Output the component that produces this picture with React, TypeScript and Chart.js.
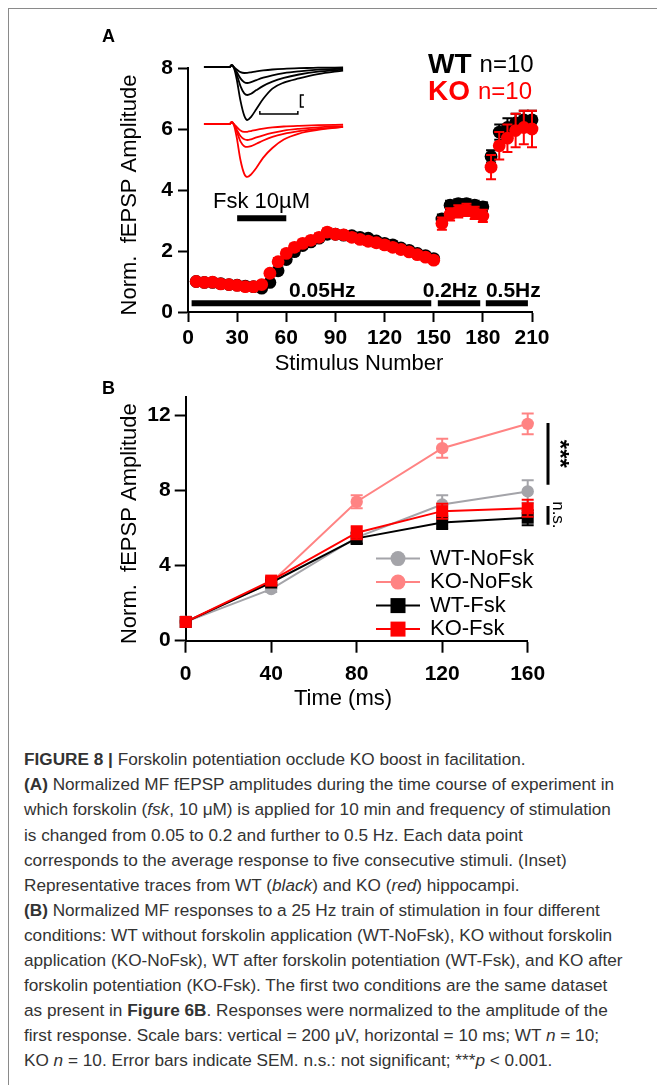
import React, { useEffect, useRef } from "react";
import { Chart, registerables } from "chart.js";

Chart.register(...registerables);

const FONT = "'Liberation Sans', Arial, Helvetica, sans-serif";

// ---------------- Panel A: time course ----------------
const stimulusNumber = [5, 10, 15, 20, 25, 30, 35, 40, 45, 50, 55, 60, 65, 70, 75, 80, 85, 90, 95, 100, 105, 110, 115, 120, 125, 130, 135, 140, 145, 150, 155, 160, 165, 170, 175, 180, 185, 190, 195, 200, 205, 210];
const wtAmplitude = [1.0, 0.97, 0.97, 0.93, 0.9, 0.88, 0.85, 0.83, 0.78, 0.97, 1.35, 1.72, 1.98, 2.18, 2.3, 2.42, 2.55, 2.55, 2.52, 2.5, 2.45, 2.42, 2.33, 2.25, 2.2, 2.1, 2.02, 1.92, 1.85, 1.75, 3.05, 3.5, 3.55, 3.55, 3.5, 3.45, 5.1, 5.9, 6.05, 6.2, 6.3, 6.3];
const wtSem = [0.02, 0.04, 0.05, 0.05, 0.05, 0.05, 0.05, 0.05, 0.05, 0.06, 0.08, 0.09, 0.1, 0.1, 0.1, 0.1, 0.1, 0.1, 0.1, 0.1, 0.1, 0.1, 0.1, 0.1, 0.1, 0.1, 0.1, 0.09, 0.09, 0.09, 0.15, 0.15, 0.15, 0.15, 0.15, 0.15, 0.2, 0.25, 0.3, 0.3, 0.3, 0.3];
const koAmplitude = [1.0, 0.97, 0.98, 0.92, 0.9, 0.87, 0.83, 0.83, 0.9, 1.27, 1.65, 1.92, 2.12, 2.25, 2.35, 2.45, 2.62, 2.55, 2.53, 2.45, 2.38, 2.32, 2.27, 2.2, 2.12, 2.05, 1.97, 1.88, 1.8, 1.7, 2.9, 3.2, 3.3, 3.35, 3.25, 3.15, 4.75, 5.45, 5.7, 5.95, 6.05, 6.0];
const koSem = [0.02, 0.05, 0.05, 0.06, 0.06, 0.06, 0.06, 0.06, 0.07, 0.1, 0.12, 0.12, 0.12, 0.12, 0.12, 0.12, 0.12, 0.12, 0.12, 0.12, 0.12, 0.12, 0.12, 0.12, 0.12, 0.12, 0.1, 0.1, 0.1, 0.1, 0.2, 0.2, 0.2, 0.2, 0.2, 0.2, 0.4, 0.45, 0.45, 0.55, 0.55, 0.6];
const xTicksA = [0, 30, 60, 90, 120, 150, 180, 210];
const yTicksA = [0, 2, 4, 6, 8];

// stimulation frequency bars
const freqLabels = ["0.05Hz", "0.2Hz", "0.5Hz"];
const freqStart = [2.2, 152.5, 181.8];
const freqEnd = [148.5, 178.4, 207.5];
const freqLabelAt = [82, 160, 198.6];
const freqBarLevel = 0.29;
const freqLabelLevel = 0.69;

// forskolin application bar
const fskLabel = "Fsk 10µM";
const fskStart = 30;
const fskEnd = 60;
const fskLevel = 3.07;

// inset: representative traces (time in ms, amplitude in µV)
const traceTimeMs = [0, 6.8, 7.3, 7.8, 8.6, 9.6, 10.6, 11.4, 12.4, 13.8, 15.6, 18, 21, 25, 30, 36.6];
const wtTraces = [
  [0, 0, 30, 0, -40, -85, -100, -98, -88, -72, -57, -42, -30, -20, -12, -8],
  [0, 0, 30, 0, -80, -190, -255, -267, -252, -218, -178, -138, -102, -72, -45, -28],
  [0, 0, 30, 0, -120, -320, -440, -467, -445, -385, -315, -245, -182, -125, -78, -45],
  [0, 0, 30, 0, -200, -560, -810, -883, -830, -700, -530, -360, -260, -190, -120, -60],
];
const koTraces = [
  [0, 0, 30, 0, -50, -110, -133, -130, -118, -98, -78, -58, -42, -30, -20, -12],
  [0, 0, 30, 0, -90, -200, -255, -267, -255, -225, -190, -150, -110, -80, -55, -35],
  [0, 0, 30, 0, -120, -290, -370, -383, -370, -330, -275, -215, -165, -120, -80, -50],
  [0, 0, 30, 0, -220, -600, -830, -883, -840, -730, -560, -400, -260, -160, -100, -50],
];
const scaleBarMs = 10;
const scaleBarUv = 200;

// ---------------- Panel B: 25 Hz train ----------------
const timeMs = [0, 40, 80, 120, 160];
const wtNoFsk = [1, 2.75, 5.5, 7.25, 7.95];
const wtNoFskSem = [0, 0.15, 0.3, 0.5, 0.6];
const koNoFsk = [1, 3.1, 7.4, 10.25, 11.55];
const koNoFskSem = [0, 0.15, 0.35, 0.5, 0.55];
const wtFsk = [1, 3.1, 5.45, 6.3, 6.55];
const wtFskSem = [0, 0.15, 0.3, 0.35, 0.4];
const koFsk = [1, 3.2, 5.75, 6.9, 7.05];
const koFskSem = [0, 0.15, 0.35, 0.4, 0.45];
const xTicksB = [0, 40, 80, 120, 160];
const yTicksB = [0, 4, 8, 12];
const seriesNamesB = ["WT-NoFsk", "KO-NoFsk", "WT-Fsk", "KO-Fsk"];

const GRAY = "#a4a4a9";
const SALMON = "#ff8383";
const RED = "#ff0000";
const BLACK = "#000000";

const pts = (xs: number[], ys: number[]) => xs.map((x, i) => ({ x, y: ys[i] }));

const errorBarPlugin = {
  id: "errorBars",
  beforeDatasetDraw(chart: any, args: any) {
    const ds = chart.data.datasets[args.index];
    const sem: number[] | undefined = ds.sem;
    if (!sem) return;
    const meta = args.meta;
    const xs = chart.scales[meta.xAxisID];
    const ys = chart.scales[meta.yAxisID];
    const ctx = chart.ctx;
    ctx.save();
    ctx.strokeStyle = ds.borderColor;
    ctx.lineWidth = 2;
    const cap = ds.capHalf || 5;
    ds.data.forEach((p: any, i: number) => {
      const e = sem[i];
      if (!e) return;
      const x = xs.getPixelForValue(p.x);
      const y1 = ys.getPixelForValue(p.y + e);
      const y2 = ys.getPixelForValue(p.y - e);
      ctx.beginPath();
      ctx.moveTo(x, y1);
      ctx.lineTo(x, y2);
      ctx.moveTo(x - cap, y1);
      ctx.lineTo(x + cap, y1);
      ctx.moveTo(x - cap, y2);
      ctx.lineTo(x + cap, y2);
      ctx.stroke();
    });
    ctx.restore();
  },
};

const axisStyle = (ticks: number[], min: number, max: number, tickLen: number, pad: number) => ({
  type: "linear" as const,
  min,
  max,
  afterBuildTicks: (s: any) => {
    s.ticks = ticks.map((v) => ({ value: v }));
  },
  ticks: {
    color: "#000",
    font: { family: FONT, size: 21, weight: "bold" as const },
    padding: pad,
    autoSkip: false,
    maxRotation: 0,
  },
  grid: {
    display: true,
    drawOnChartArea: false,
    drawTicks: true,
    tickLength: tickLen,
    tickWidth: 2,
    color: "#000",
  },
  border: { display: true, color: "#000", width: 2 },
});

const annotationsA = {
  id: "annotA",
  afterDatasetsDraw(chart: any) {
    const { ctx, chartArea: ca, scales } = chart;
    const sx = scales.x;
    const sy = scales.y;
    ctx.save();
    ctx.fillStyle = "#000";
    ctx.textBaseline = "middle";
    ctx.textAlign = "center";
    ctx.font = `22px ${FONT}`;
    ctx.fillText("Stimulus Number", ca.left + 171, ca.bottom + 52);
    ctx.save();
    ctx.translate(ca.left - 57.6, ca.top + 127);
    ctx.rotate(-Math.PI / 2);
    ctx.fillText("Norm.  fEPSP Amplitude", 0, 0);
    ctx.restore();

    // frequency labels
    ctx.font = `bold 21px ${FONT}`;
    freqLabels.forEach((t, i) => {
      ctx.fillText(t, sx.getPixelForValue(freqLabelAt[i]), sy.getPixelForValue(freqLabelLevel));
    });

    // forskolin label
    ctx.textAlign = "left";
    ctx.font = `22px ${FONT}`;
    ctx.fillText(fskLabel, ca.left + 25, ca.top + 134.4);

    // legend WT / KO
    const lx = ca.left + 240;
    ctx.font = `bold 28px ${FONT}`;
    ctx.fillStyle = BLACK;
    ctx.fillText("WT", lx, ca.top - 2.7);
    let w = ctx.measureText("WT").width;
    ctx.font = `24px ${FONT}`;
    ctx.fillText("n=10", lx + w + 8, ca.top - 2.7);
    ctx.font = `bold 28px ${FONT}`;
    ctx.fillStyle = RED;
    ctx.fillText("KO", lx, ca.top + 24);
    w = ctx.measureText("KO").width;
    ctx.font = `24px ${FONT}`;
    ctx.fillText("n=10", lx + w + 8, ca.top + 24);
    ctx.restore();
  },
};

const annotationsB = {
  id: "annotB",
  afterDatasetsDraw(chart: any) {
    const { ctx, chartArea: ca, scales } = chart;
    const sx = scales.x;
    const sy = scales.y;
    ctx.save();
    ctx.fillStyle = "#000";
    ctx.textBaseline = "middle";
    ctx.textAlign = "center";
    ctx.font = `22px ${FONT}`;
    ctx.fillText("Time (ms)", ca.left + 157.3, ca.bottom + 58.5);
    ctx.save();
    ctx.translate(ca.left - 55.3, ca.top + 127);
    ctx.rotate(-Math.PI / 2);
    ctx.fillText("Norm.  fEPSP Amplitude", 0, 0);
    ctx.restore();

    // significance marks
    const sigX = sx.getPixelForValue(169.5);
    ctx.strokeStyle = "#000";
    ctx.lineWidth = 3;
    ctx.beginPath();
    ctx.moveTo(sigX, sy.getPixelForValue(11.6));
    ctx.lineTo(sigX, sy.getPixelForValue(8.3));
    ctx.moveTo(sigX, sy.getPixelForValue(7.18));
    ctx.lineTo(sigX, sy.getPixelForValue(6.17));
    ctx.stroke();
    ctx.save();
    ctx.translate(sigX + 11, sy.getPixelForValue(9.95));
    ctx.rotate(Math.PI / 2);
    ctx.font = `bold 24px ${FONT}`;
    ctx.fillText("***", 0, 0);
    ctx.restore();
    ctx.save();
    ctx.translate(sigX + 9.5, sy.getPixelForValue(6.7));
    ctx.rotate(Math.PI / 2);
    ctx.font = `17px ${FONT}`;
    ctx.fillText("n.s.", 0, 0);
    ctx.restore();

    // legend
    const lx0 = ca.left + 190.3;
    const lx1 = ca.left + 234.3;
    const tx = ca.left + 244.3;
    const y0 = ca.top + 162;
    const gap = 23.5;
    seriesNamesB.forEach((name, i) => {
      const ds = chart.data.datasets[i];
      const y = y0 + i * gap;
      ctx.strokeStyle = ds.borderColor;
      ctx.lineWidth = 2;
      ctx.beginPath();
      ctx.moveTo(lx0, y);
      ctx.lineTo(lx1, y);
      ctx.stroke();
      ctx.fillStyle = ds.backgroundColor;
      const cx = (lx0 + lx1) / 2;
      if (ds.pointStyle === "circle") {
        ctx.beginPath();
        ctx.arc(cx, y, 7.5, 0, Math.PI * 2);
        ctx.fill();
      } else {
        ctx.fillRect(cx - 7.5, y - 7.5, 15, 15);
      }
      ctx.fillStyle = "#000";
      ctx.textAlign = "left";
      ctx.font = `22px ${FONT}`;
      ctx.fillText(name, tx, y);
    });
    ctx.restore();
  },
};

function buildChartA(canvas: HTMLCanvasElement) {
  const traceSets: any[] = [];
  wtTraces.forEach((tr) => {
    traceSets.push({
      data: pts(traceTimeMs, tr),
      xAxisID: "xi",
      yAxisID: "yw",
      showLine: true,
      borderColor: BLACK,
      borderWidth: 1.8,
      pointRadius: 0,
      cubicInterpolationMode: "monotone",
      clip: false,
      order: 10,
    });
  });
  koTraces.forEach((tr) => {
    traceSets.push({
      data: pts(traceTimeMs, tr),
      xAxisID: "xi",
      yAxisID: "yk",
      showLine: true,
      borderColor: RED,
      borderWidth: 1.8,
      pointRadius: 0,
      cubicInterpolationMode: "monotone",
      clip: false,
      order: 10,
    });
  });
  // scale bars of the inset
  const hbT0 = 14.7;
  const hbV = -783;
  traceSets.push({
    data: [
      { x: hbT0, y: hbV + 50 },
      { x: hbT0, y: hbV },
      { x: hbT0 + scaleBarMs, y: hbV },
      { x: hbT0 + scaleBarMs, y: hbV + 50 },
    ],
    xAxisID: "xi",
    yAxisID: "yw",
    showLine: true,
    borderColor: BLACK,
    borderWidth: 1.5,
    pointRadius: 0,
    clip: false,
    order: 10,
  });
  const vbT = 25.4;
  const vbTop = -467;
  traceSets.push({
    data: [
      { x: vbT + 0.9, y: vbTop },
      { x: vbT, y: vbTop },
      { x: vbT, y: vbTop - scaleBarUv },
      { x: vbT + 0.9, y: vbTop - scaleBarUv },
    ],
    xAxisID: "xi",
    yAxisID: "yw",
    showLine: true,
    borderColor: BLACK,
    borderWidth: 1.5,
    pointRadius: 0,
    clip: false,
    order: 10,
  });

  const barSets: any[] = freqLabels.map((_, i) => ({
    data: [
      { x: freqStart[i], y: freqBarLevel },
      { x: freqEnd[i], y: freqBarLevel },
    ],
    showLine: true,
    borderColor: BLACK,
    borderWidth: 6,
    borderCapStyle: "butt",
    pointRadius: 0,
    clip: false,
    order: 9,
  }));
  barSets.push({
    data: [
      { x: fskStart, y: fskLevel },
      { x: fskEnd, y: fskLevel },
    ],
    showLine: true,
    borderColor: BLACK,
    borderWidth: 6,
    borderCapStyle: "butt",
    pointRadius: 0,
    clip: false,
    order: 9,
  });

  return new Chart(canvas, {
    type: "scatter",
    data: {
      datasets: [
        {
          label: "WT",
          data: pts(stimulusNumber, wtAmplitude),
          sem: wtSem,
          capHalf: 5,
          backgroundColor: BLACK,
          borderColor: BLACK,
          pointRadius: 6.4,
          pointBorderWidth: 0,
          pointHoverRadius: 6.4,
          clip: false,
          order: 2,
        } as any,
        {
          label: "KO",
          data: pts(stimulusNumber, koAmplitude),
          sem: koSem,
          capHalf: 5,
          backgroundColor: RED,
          borderColor: RED,
          pointRadius: 6.4,
          pointBorderWidth: 0,
          pointHoverRadius: 6.4,
          clip: false,
          order: 1,
        } as any,
        ...barSets,
        ...traceSets,
      ],
    },
    options: {
      responsive: false,
      animation: false,
      devicePixelRatio: 1,
      events: [],
      layout: { padding: { top: 48, right: 56, left: 0, bottom: 0 } },
      plugins: { legend: { display: false }, tooltip: { enabled: false } },
      scales: {
        x: { ...axisStyle(xTicksA, 0, 210, 10, 4), afterFit: (s: any) => { s.height = 68; } },
        y: { ...axisStyle(yTicksA, 0, 8, 10, 5), afterFit: (s: any) => { s.width = 100; } },
        xi: { type: "linear", display: false, min: -4.2, max: 86.3 },
        yw: { type: "linear", display: false, min: -4083, max: -16.7 },
        yk: { type: "linear", display: false, min: -3134, max: 933 },
      },
    } as any,
    plugins: [errorBarPlugin, annotationsA],
  });
}

function buildChartB(canvas: HTMLCanvasElement) {
  const series = [
    { v: wtNoFsk, e: wtNoFskSem, c: GRAY, s: "circle", r: 6.2, o: 4 },
    { v: koNoFsk, e: koNoFskSem, c: SALMON, s: "circle", r: 6.2, o: 3 },
    { v: wtFsk, e: wtFskSem, c: BLACK, s: "rect", r: 8.5, o: 2 },
    { v: koFsk, e: koFskSem, c: RED, s: "rect", r: 8.5, o: 1 },
  ];
  return new Chart(canvas, {
    type: "scatter",
    data: {
      datasets: series.map((d, i) => ({
        label: seriesNamesB[i],
        data: pts(timeMs, d.v),
        sem: d.e,
        capHalf: 6,
        showLine: true,
        borderColor: d.c,
        backgroundColor: d.c,
        borderWidth: 2,
        pointStyle: d.s,
        pointRadius: d.r,
        pointBorderWidth: 0,
        pointHoverRadius: d.r,
        clip: false,
        order: d.o,
      })) as any,
    },
    options: {
      responsive: false,
      animation: false,
      devicePixelRatio: 1,
      events: [],
      layout: { padding: { top: 16, right: 60.3, left: 0, bottom: 0 } },
      plugins: { legend: { display: false }, tooltip: { enabled: false } },
      scales: {
        x: { ...axisStyle(xTicksB, 0, 160, 12, 9), afterFit: (s: any) => { s.height = 79.3; } },
        y: { ...axisStyle(yTicksB, 0, 13, 11, 4), afterFit: (s: any) => { s.width = 97.7; } },
      },
    } as any,
    plugins: [errorBarPlugin, annotationsB],
  });
}

const captionLines: React.ReactNode[] = [
  <><b>FIGURE 8 |</b> Forskolin potentiation occlude KO boost in facilitation.</>,
  <><b>(A)</b> Normalized MF fEPSP amplitudes during the time course of experiment in</>,
  <>which forskolin (<i>fsk</i>, 10 μM) is applied for 10 min and frequency of stimulation</>,
  <>is changed from 0.05 to 0.2 and further to 0.5 Hz. Each data point</>,
  <>corresponds to the average response to five consecutive stimuli. (Inset)</>,
  <>Representative traces from WT (<i>black</i>) and KO (<i>red</i>) hippocampi.</>,
  <><b>(B)</b> Normalized MF responses to a 25 Hz train of stimulation in four different</>,
  <>conditions: WT without forskolin application (WT-NoFsk), KO without forskolin</>,
  <>application (KO-NoFsk), WT after forskolin potentiation (WT-Fsk), and KO after</>,
  <>forskolin potentiation (KO-Fsk). The first two conditions are the same dataset</>,
  <>as present in <b>Figure 6B</b>. Responses were normalized to the amplitude of the</>,
  <>first response. Scale bars: vertical = 200 μV, horizontal = 10 ms; WT <i>n</i> = 10;</>,
  <>KO <i>n</i> = 10. Error bars indicate SEM. n.s.: not significant; ***<i>p</i> &lt; 0.001.</>,
];

export default function App() {
  const refA = useRef<HTMLCanvasElement>(null);
  const refB = useRef<HTMLCanvasElement>(null);
  useEffect(() => {
    const a = buildChartA(refA.current!);
    const b = buildChartB(refB.current!);
    return () => {
      a.destroy();
      b.destroy();
    };
  }, []);
  return (
    <div style={{ position: "fixed", left: 0, top: 0, width: 657, height: 1085, overflow: "hidden", background: "#fff", fontFamily: FONT }}>
      <div style={{ position: "absolute", left: 8, top: 8, width: 720, height: 1120, borderLeft: "1px solid #8a8a8a", borderTop: "1px solid #8a8a8a" }} />
      <canvas ref={refA} width={500} height={360} style={{ position: "absolute", left: 88, top: 20 }} />
      <canvas ref={refB} width={500} height={340} style={{ position: "absolute", left: 88, top: 380 }} />
      <div style={{ position: "absolute", left: 102, top: 27.2, fontSize: 18, lineHeight: "18px", fontWeight: "bold", color: "#000" }}>A</div>
      <div style={{ position: "absolute", left: 102, top: 379.2, fontSize: 18, lineHeight: "18px", fontWeight: "bold", color: "#000" }}>B</div>
      <div style={{ position: "absolute", left: 24, top: 747.3, fontSize: 17.2, lineHeight: "25.08px", color: "#333", whiteSpace: "nowrap" }}>
        {captionLines.map((l, i) => (
          <div key={i}>{l}</div>
        ))}
      </div>
    </div>
  );
}
